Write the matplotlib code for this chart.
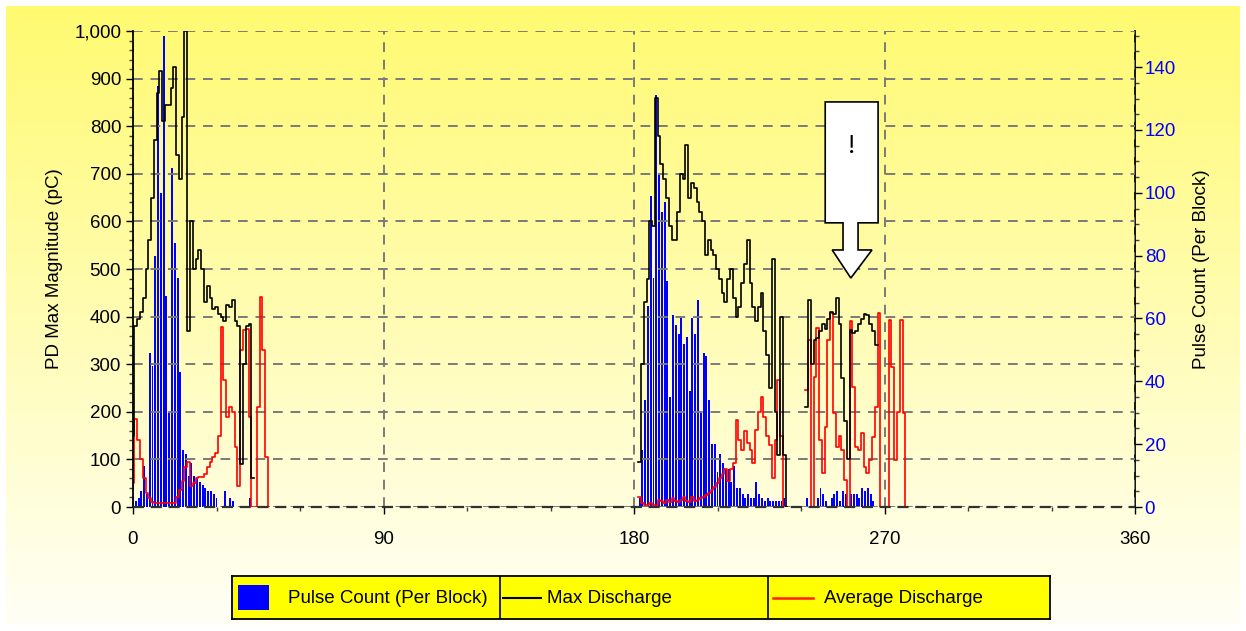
import numpy as np
import matplotlib.pyplot as plt
import matplotlib.ticker as ticker
from matplotlib.patches import Polygon, Rectangle

plt.rcParams['font.family'] = ['Liberation Sans', 'DejaVu Sans']

# Phase-resolved PD data, one value per degree, three phase clusters.
start_a, start_b, start_c = 0, 181, 241

# Cluster A: 0..49 deg
count_a = [0, 2, 3, 5, 13, 4, 49, 45, 80, 134, 100, 150, 67, 30, 108, 84, 73, 43, 18, 17,
           10, 14, 10, 9, 8, 7, 6, 5, 5, 4, 3, 0, 0, 5, 0, 3, 2, 0, 0, 0,
           0, 0, 3, 0, 0, 0, 0, 0, 0, 0]
maxq_a = [150, 380, 395, 410, 440, 500, 560, 650, 770, 870, 915, 810, 845, 845, 880, 925, 740, 690, 820, 1000,
          370, 600, 500, 520, 540, 500, 430, 465, 440, 415, 420, 405, 400, 390, 425, 420, 435, 390, 380, 90,
          300, 380, 385, 60, None, None, None, None, None, None]
avgq_a = [50, 185, 140, 100, 60, 30, 18, 10, 8, 8, 8, 8, 8, 8, 8, 8, 20, 35, 55, 85,
          95, 45, 50, 60, 63, 63, 70, 85, 95, 105, 113, 150, 378, 267, 190, 210, 200, 126, 45, 330,
          372, 375, 189, 0, 0, 210, 441, 330, 105, 0]

# Cluster B: 181..235 deg
count_b = [0, 3, 18, 34, 64, 99, 73, 131, 106, 94, 97, 72, 35, 61, 58, 55, 60, 52, 54, 37,
           60, 55, 66, 30, 49, 48, 34, 20, 20, 11, 17, 14, 12, 12, 8, 13, 6, 6, 4, 3,
           4, 3, 3, 8, 4, 3, 2, 3, 2, 2, 2, 2, 2, 3, 0]
maxq_b = [None, 95, 300, 430, 480, 600, 590, 860, 780, 720, 690, 650, 590, 560, 560, 620, 700, 690, 760, 650,
          680, 670, 640, 620, 600, 530, 560, 540, 530, 500, 480, 450, 430, 480, 500, 440, 400, 420, 470, 510,
          560, 470, 420, 390, 420, 450, 370, 320, 250, 520, 200, 110, 400, 110, 0]
avgq_b = [None, 20, 8, 5, 5, 8, 5, 5, 15, 12, 8, 15, 10, 18, 12, 10, 15, 20, 12, 10,
          20, 12, 15, 18, 21, 25, 29, 35, 42, 50, 60, 70, 80, 55, 80, 92, 183, 140, 120, 160,
          135, 120, 92, 162, 200, 231, 190, 150, 130, 60, 140, 267, 150, 0, 0]

# Cluster C: 241..278 deg
count_c = [0, 3, 0, 0, 0, 3, 6, 4, 2, 0, 3, 4, 5, 2, 5, 4, 0, 4, 4, 4,
           3, 6, 5, 6, 4, 2, 0, 0, 0, 0, 0, 0, 0, 0, 0, 0, 0, 0]
maxq_c = [None, 210, 435, 300, 350, 355, 370, 385, 375, 395, 410, 405, 440, 385, 270, 180, 100, 372, 365, 370,
          385, 395, 405, 403, 385, 370, 340, None, None, None, None, None, None, None, None, None, None, None]
avgq_c = [None, 246, 351, 0, 273, 376, 141, 71, 168, 351, 407, 197, 126, 150, 120, 57, 0, 390, 252, 126,
          120, 155, 84, 71, 99, 147, 210, 407, 0, 0, 0, 393, 294, 99, 200, 393, 197, 0]

phase_ticks = [0, 90, 180, 270, 360]

W, H = 1246, 631
fig = plt.figure(figsize=(W / 100, H / 100), dpi=100)

# Yellow-to-white gradient panel behind everything
bg = fig.add_axes([0, 0, 1, 1])
bg.set_xlim(0, W)
bg.set_ylim(H, 0)
bg.axis('off')
top = np.array([255, 250, 112]) / 255
bot = np.array([255, 255, 246]) / 255
t = np.linspace(0, 1, 256)[:, None, None]
grad = top * (1 - t) + bot * t
bg.imshow(grad, extent=(6, 1240, 625, 6), aspect='auto')

# Main axes (left: magnitude), twin (right: pulse count)
ax = fig.add_axes([133 / W, (H - 507) / H, (1135 - 133) / W, (507 - 31) / H])
ax2 = ax.twinx()
ax.set_zorder(ax2.get_zorder() + 1)
ax.patch.set_visible(False)

for start, cnt in [(start_a, count_a), (start_b, count_b), (start_c, count_c)]:
    x = start + np.arange(len(cnt))
    ax2.bar(x, cnt, width=0.7, color='#0000FF', linewidth=0)

for start, mx, av in [(start_a, maxq_a, avgq_a), (start_b, maxq_b, avgq_b), (start_c, maxq_c, avgq_c)]:
    x = start + np.arange(len(mx))
    ax.plot(x, np.array(av, dtype=float), color='#FF0000', lw=1.2, drawstyle='steps-mid')
    ax.plot(x, np.array(mx, dtype=float), color='#000000', lw=1.2, drawstyle='steps-mid')

ax.set_xlim(0, 360)
ax.set_ylim(0, 1000)
ax2.set_ylim(0, 151.5)

ax.xaxis.set_major_locator(ticker.FixedLocator(phase_ticks))
ax.xaxis.set_minor_locator(ticker.MultipleLocator(30))
ax.yaxis.set_major_locator(ticker.MultipleLocator(100))
ax.yaxis.set_minor_locator(ticker.MultipleLocator(20))
ax.yaxis.set_major_formatter(ticker.FuncFormatter(lambda v, p: f'{int(v):,}'))
ax2.yaxis.set_major_locator(ticker.MultipleLocator(20))
ax2.yaxis.set_minor_locator(ticker.MultipleLocator(5))

ax.grid(True, which='major', color='#7a7a7a', linestyle=(0, (5, 4)), lw=1.4)

for a in (ax, ax2):
    a.spines['top'].set_visible(False)
    a.spines['bottom'].set_visible(False)
ax.spines['right'].set_visible(False)
ax2.spines['left'].set_visible(False)
ax.spines['left'].set_linewidth(1.3)
ax2.spines['right'].set_linewidth(1.3)
ax.axhline(0, color='#303030', lw=1.6, linestyle=(0, (5, 3)), zorder=5, clip_on=False)

ax.tick_params(axis='both', which='major', labelsize=13.5, length=5, width=1, color='black')
ax.tick_params(axis='both', which='minor', length=3, width=1, color='#404040')
ax.tick_params(axis='x', pad=12)
ax2.tick_params(axis='y', which='major', labelsize=13.5, length=5, width=1, labelcolor='#0000FF', pad=2)
ax2.tick_params(axis='y', which='minor', length=3, width=1, color='#404040')

ax.set_ylabel('PD Max Magnitude (pC)', fontsize=13.5, labelpad=8)
ax2.set_ylabel('Pulse Count (Per Block)', fontsize=13.5, labelpad=12)

# Warning callout arrow
callout = [(248.7, 851), (267.7, 851), (267.7, 597), (260.5, 597), (260.5, 540), (265.5, 540),
           (257.9, 481), (251.2, 540), (255.1, 540), (255.1, 597), (248.7, 597)]
ax.add_patch(Polygon(callout, closed=True, facecolor='white', edgecolor='black', lw=1.2, zorder=6))
ax.text(258.2, 758, '!', fontsize=20, family='Liberation Serif', ha='center', va='center', zorder=7)

# Legend bar at the bottom
lax = fig.add_axes([232 / W, (H - 619) / H, (1050 - 232) / W, 43 / H])
lax.set_xlim(232, 1050)
lax.set_ylim(619, 576)
lax.set_facecolor('#FFFF00')
lax.set_xticks([])
lax.set_yticks([])
for s in lax.spines.values():
    s.set_linewidth(1.3)
lax.axvline(500, color='black', lw=1.2)
lax.axvline(768, color='black', lw=1.2)
lax.add_patch(Rectangle((238, 585), 31, 25, facecolor='#0000FF', edgecolor='none'))
lax.text(288, 598, 'Pulse Count (Per Block)', fontsize=13.5, va='center', ha='left')
lax.plot([503, 541], [598, 598], color='black', lw=1.5)
lax.text(547, 598, 'Max Discharge', fontsize=13.5, va='center', ha='left')
lax.plot([773, 813], [598, 598], color='#FF2000', lw=1.8)
lax.text(824, 598, 'Average Discharge', fontsize=13.5, va='center', ha='left')

fig.savefig('out.png', dpi=100)
